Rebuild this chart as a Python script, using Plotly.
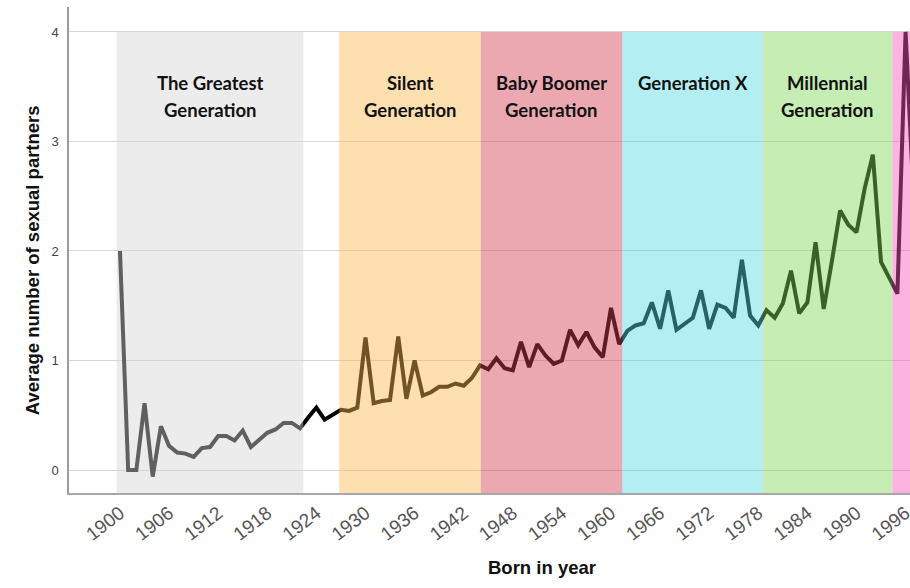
import plotly.graph_objects as go

# average number of sexual partners by year of birth
years = list(range(1900, 1998))
partners = [
    2.00, 0.00, 0.00, 0.61, -0.06, 0.40, 0.22, 0.16, 0.15, 0.12,   # 1900s
    0.20, 0.21, 0.31, 0.31, 0.27, 0.36, 0.21, 0.27, 0.34, 0.37,    # 1910s
    0.43, 0.43, 0.38, 0.48, 0.57, 0.46, 0.51, 0.55, 0.54, 0.57,    # 1920s
    1.21, 0.61, 0.63, 0.64, 1.22, 0.65, 1.00, 0.68, 0.71, 0.76,    # 1930s
    0.76, 0.79, 0.77, 0.84, 0.955, 0.92, 1.02, 0.93, 0.91, 1.17,   # 1940s
    0.94, 1.15, 1.045, 0.97, 1.00, 1.28, 1.14, 1.26, 1.12, 1.03,   # 1950s
    1.48, 1.15, 1.27, 1.32, 1.34, 1.53, 1.29, 1.64, 1.28, 1.34,    # 1960s
    1.39, 1.64, 1.29, 1.51, 1.48, 1.39, 1.92, 1.41, 1.32, 1.46,    # 1970s
    1.39, 1.52, 1.82, 1.43, 1.53, 2.08, 1.47, 1.91, 2.37, 2.24,    # 1980s
    2.17, 2.57, 2.88, 1.90, 1.76, 1.61, 4.00, 2.45,                # 1990s
]

# generation bands (start, end on the year axis)
gen_names = ["The Greatest<br>Generation", "Silent<br>Generation",
             "Baby Boomer<br>Generation", "Generation X",
             "Millennial<br>Generation", ""]
gen_start = [1899.6, 1926.8, 1944.1, 1961.4, 1978.6, 1994.4]
gen_end = [1922.4, 1944.1, 1961.4, 1978.6, 1994.4, 2000.0]
gen_colors = ["#d5d5d5", "#fab84f", "#d53e4f", "#56dbe2", "#80d756", "#fa56ba"]

tick_years = list(range(1900, 1997, 6))

fig = go.Figure()
fig.add_trace(go.Scatter(
    x=years, y=partners, mode="lines",
    line=dict(color="black", width=4),
    hoverinfo="x+y", showlegend=False,
))

y_lo, y_hi = -0.21, 4.228

for name, x0, x1, col in zip(gen_names, gen_start, gen_end, gen_colors):
    fig.add_shape(type="rect", xref="x", yref="y", x0=x0, x1=x1, y0=y_lo, y1=4,
                  fillcolor=col, opacity=0.45, line_width=0, layer="above")
    # one annotation per text line so the line spacing can be set
    for i, part in enumerate(name.split("<br>")):
        if not part:
            continue
        fig.add_annotation(x=(x0 + x1) / 2, y=3.534 - i * 0.247, xref="x", yref="y",
                           text=part, showarrow=False, yanchor="middle",
                           font=dict(family="Lato", size=18.5, color="#111111",
                                     weight="bold"))

fig.add_annotation(x=0.5624, y=-0.154, xref="paper", yref="paper",
                   text="<b>Born in year</b>", showarrow=False, yanchor="middle",
                   font=dict(family="Liberation Sans, Arial", size=18.5, color="#111111"))
fig.add_annotation(x=-0.044, y=0.479, xref="paper", yref="paper", textangle=-90,
                   text="<b>Average number of sexual partners</b>", showarrow=False,
                   xanchor="center", yanchor="middle",
                   font=dict(family="Liberation Sans, Arial", size=18.5, color="#111111"))

fig.update_xaxes(
    range=[1893.77, 1996.54], tickvals=tick_years, tickangle=-38, automargin=False,
    ticklabeloverflow="allow",
    showgrid=False, zeroline=False, showline=True, linecolor="#a8a8a8", linewidth=1.5,
    tickfont=dict(family="Liberation Sans, Arial", size=19, color="#555555"),
)
fig.update_yaxes(
    range=[y_lo, y_hi], tickvals=[0, 1, 2, 3, 4], ticklabelstandoff=6, automargin=False,
    showgrid=True, gridcolor="#d6d6d6", gridwidth=1.3, zeroline=False,
    showline=True, linecolor="#9a9a9a", linewidth=1.5,
    tickfont=dict(family="Liberation Sans, Arial", size=13, color="#444444"),
)
fig.update_layout(
    width=910, height=588,
    margin=dict(l=69, r=0, t=7, b=95),
    plot_bgcolor="white", paper_bgcolor="white",
)

# drop the default page margin so the figure sits at the window's top-left corner
fig.write_html("out.html", config={"displayModeBar": False},
               post_script="document.body.style.margin = '0';")
